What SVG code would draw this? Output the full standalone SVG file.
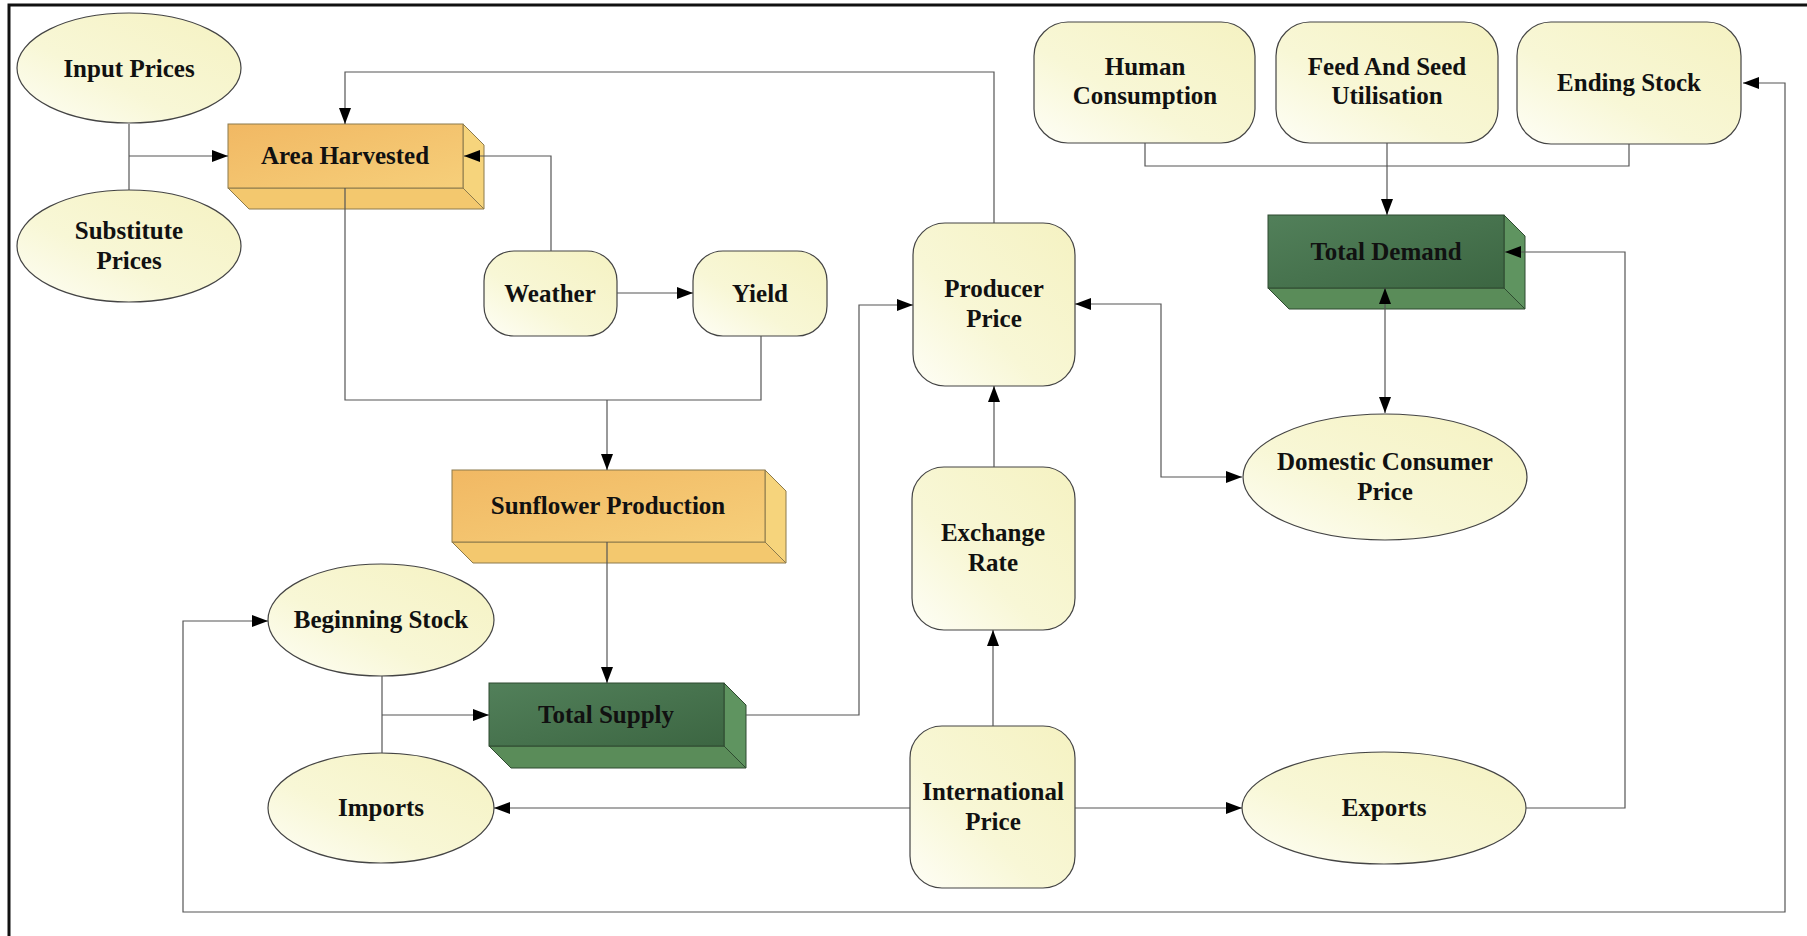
<svg xmlns="http://www.w3.org/2000/svg" width="1807" height="936" viewBox="0 0 1807 936">
<defs>
<linearGradient id="cream" x1="1" y1="0" x2="0" y2="1">
<stop offset="0" stop-color="#F5F2C2"/>
<stop offset="0.6" stop-color="#F8F7D6"/>
<stop offset="1" stop-color="#FEFEF6"/>
</linearGradient>
<linearGradient id="orFront" x1="0" y1="0" x2="1" y2="1">
<stop offset="0" stop-color="#F1B863"/>
<stop offset="1" stop-color="#F6CF7A"/>
</linearGradient>
<linearGradient id="grFront" x1="0" y1="0" x2="1" y2="1">
<stop offset="0" stop-color="#52805A"/>
<stop offset="1" stop-color="#3C6642"/>
</linearGradient>
<marker id="ah" viewBox="0 0 16 12" markerWidth="16" markerHeight="12" markerUnits="userSpaceOnUse" refX="16" refY="6" orient="auto-start-reverse">
<path d="M0,0 L16,6 L0,12 z" fill="#000"/>
</marker>
<style>
.el{fill:url(#cream);stroke:#444;stroke-width:1.2}
.rr{fill:url(#cream);stroke:#444;stroke-width:1.2}
.orf{fill:url(#orFront);stroke:#8C7A4C;stroke-width:1}
.ors{fill:#F6D47C;stroke:#8C7A4C;stroke-width:1}
.orb{fill:#F3C86E;stroke:#8C7A4C;stroke-width:1}
.grf{fill:url(#grFront);stroke:#2E4A30;stroke-width:1}
.grs{fill:#5F9460;stroke:#2E4A30;stroke-width:1}
.grb{fill:#5A8C59;stroke:#2E4A30;stroke-width:1}
.t{font-family:"Liberation Serif","Times New Roman",serif;font-weight:bold;font-size:25px;fill:#111;text-anchor:middle}
.c{fill:none;stroke:#555;stroke-width:1.2}
.a{marker-end:url(#ah)}
.b{marker-start:url(#ah);marker-end:url(#ah)}
</style>
</defs>
<rect x="0" y="0" width="1807" height="936" fill="#fff"/>
<path d="M9,936 V5 H1807" fill="none" stroke="#111" stroke-width="3"/>

<g id="input-prices">
<ellipse class="el" cx="129" cy="68" rx="112" ry="55"/>
<text class="t" x="129" y="77">Input Prices</text>
</g>
<g id="substitute-prices">
<ellipse class="el" cx="129" cy="246" rx="112" ry="56"/>
<text class="t" x="129" y="239">Substitute</text>
<text class="t" x="129" y="269">Prices</text>
</g>
<g id="area-harvested">
<polygon class="ors" points="463,124 484,145 484,209 463,188"/>
<polygon class="orb" points="228,188 463,188 484,209 249,209"/>
<rect class="orf" x="228" y="124" width="235" height="64"/>
<text class="t" x="345" y="164">Area Harvested</text>
</g>
<g id="weather">
<rect class="rr" x="484" y="251" width="133" height="85" rx="30"/>
<text class="t" x="550" y="302">Weather</text>
</g>
<g id="yield">
<rect class="rr" x="693" y="251" width="134" height="85" rx="30"/>
<text class="t" x="760" y="302">Yield</text>
</g>
<g id="producer-price">
<rect class="rr" x="913" y="223" width="162" height="163" rx="32"/>
<text class="t" x="994" y="297">Producer</text>
<text class="t" x="994" y="327">Price</text>
</g>
<g id="sunflower-production">
<polygon class="ors" points="765,470 786,491 786,563 765,542"/>
<polygon class="orb" points="452,542 765,542 786,563 473,563"/>
<rect class="orf" x="452" y="470" width="313" height="72"/>
<text class="t" x="608" y="514">Sunflower Production</text>
</g>
<g id="exchange-rate">
<rect class="rr" x="912" y="467" width="163" height="163" rx="32"/>
<text class="t" x="993" y="541">Exchange</text>
<text class="t" x="993" y="571">Rate</text>
</g>
<g id="beginning-stock">
<ellipse class="el" cx="381" cy="620" rx="113" ry="56"/>
<text class="t" x="381" y="628">Beginning Stock</text>
</g>
<g id="total-supply">
<polygon class="grs" points="724,683 746,705 746,768 724,746"/>
<polygon class="grb" points="489,746 724,746 746,768 511,768"/>
<rect class="grf" x="489" y="683" width="235" height="63"/>
<text class="t" x="606" y="723">Total Supply</text>
</g>
<g id="imports">
<ellipse class="el" cx="381" cy="808" rx="113" ry="55"/>
<text class="t" x="381" y="816">Imports</text>
</g>
<g id="international-price">
<rect class="rr" x="910" y="726" width="165" height="162" rx="32"/>
<text class="t" x="993" y="800">International</text>
<text class="t" x="993" y="830">Price</text>
</g>
<g id="exports">
<ellipse class="el" cx="1384" cy="808" rx="142" ry="56"/>
<text class="t" x="1384" y="816">Exports</text>
</g>
<g id="domestic-consumer-price">
<ellipse class="el" cx="1385" cy="477" rx="142" ry="63"/>
<text class="t" x="1385" y="470">Domestic Consumer</text>
<text class="t" x="1385" y="500">Price</text>
</g>
<g id="total-demand">
<polygon class="grs" points="1504,215 1525,236 1525,309 1504,288"/>
<polygon class="grb" points="1268,288 1504,288 1525,309 1289,309"/>
<rect class="grf" x="1268" y="215" width="236" height="73"/>
<text class="t" x="1386" y="260">Total Demand</text>
</g>
<g id="human-consumption">
<rect class="rr" x="1034" y="22" width="221" height="121" rx="34"/>
<text class="t" x="1145" y="75">Human</text>
<text class="t" x="1145" y="104">Consumption</text>
</g>
<g id="feed-and-seed-utilisation">
<rect class="rr" x="1276" y="22" width="222" height="121" rx="34"/>
<text class="t" x="1387" y="75">Feed And Seed</text>
<text class="t" x="1387" y="104">Utilisation</text>
</g>
<g id="ending-stock">
<rect class="rr" x="1517" y="22" width="224" height="122" rx="34"/>
<text class="t" x="1629" y="91">Ending Stock</text>
</g>

<g id="connectors">
<path class="c" d="M129,124 V190"/>
<path class="c a" d="M129,156 H228"/>
<path class="c a" d="M994,223 V72 H345 V124"/>
<path class="c a" d="M551,251 V156 H464"/>
<path class="c" d="M345,188 V400 H761 V336"/>
<path class="c a" d="M607,400 V470"/>
<path class="c a" d="M617,293 H693"/>
<path class="c a" d="M607,542 V683"/>
<path class="c" d="M382,676 V753"/>
<path class="c a" d="M382,715 H489"/>
<path class="c a" d="M746,715 H859 V305 H913"/>
<path class="c a" d="M994,467 V386"/>
<path class="c a" d="M993,726 V630"/>
<path class="c a" d="M910,808 H494"/>
<path class="c a" d="M1075,808 H1242"/>
<path class="c a" d="M1526,808 H1625 V252 H1505"/>
<path class="c b" d="M1075,304 H1161 V477 H1242"/>
<path class="c b" d="M1385,288 V413"/>
<path class="c" d="M1145,143 V166 H1629 V144"/>
<path class="c a" d="M1387,143 V215"/>
<path class="c b" d="M1743,83 H1785 V912 H183 V621 H268"/>
</g>
</svg>
